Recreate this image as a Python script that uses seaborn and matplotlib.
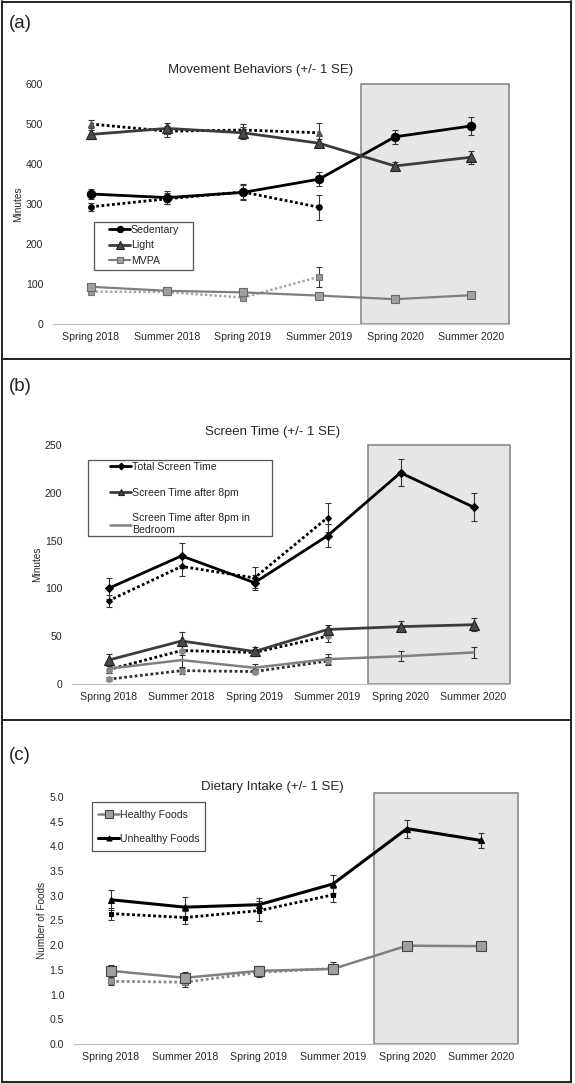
import numpy as np
import seaborn as sns
import matplotlib.pyplot as plt
from matplotlib.lines import Line2D
from matplotlib.patches import Rectangle

# --- data ---
seasons = ['Spring 2018', 'Summer 2018', 'Spring 2019', 'Summer 2019', 'Spring 2020', 'Summer 2020']

# (a) movement behaviours, minutes; solid = full sample, dotted = comparison cohort
sed = [325, 316, 329, 362, 468, 495]
sed_se = [12, 16, 20, 17, 17, 22]
sed_dot = [293, 313, 330, 292]
sed_dot_se = [10, 14, 18, 31]
light = [474, 489, 478, 452, 395, 417]
light_se = [12, 13, 15, 10, 11, 16]
light_dot = [500, 482, 485, 478]
light_dot_se = [9, 14, 15, 25]
mvpa = [93, 83, 79, 71, 62, 72]
mvpa_se = [5, 5, 5, 4, 4, 4]
mvpa_dot = [81, 80, 66, 118]
mvpa_dot_se = [5, 5, 6, 25]

# (b) screen time, minutes
total = [100, 134, 106, 155, 221, 185]
total_se = [11, 13, 8, 12, 14, 15]
total_dot = [87, 123, 111, 174]
total_dot_se = [6, 10, 11, 15]
eight = [25, 45, 34, 57, 60, 62]
eight_se = [6, 9, 5, 5, 6, 7]
eight_dot = [15, 35, 33, 50]
eight_dot_se = [4, 5, 4, 6]
bed = [16, 25, 17, 26, 29, 33]
bed_se = [4, 8, 4, 5, 5, 6]
bed_dot = [5, 14, 13, 24]
bed_dot_se = [2, 4, 3, 4]

# (c) dietary intake, number of foods
healthy = [1.48, 1.34, 1.48, 1.52, 1.99, 1.98]
healthy_se = [0.11, 0.11, 0.10, 0.10, 0.07, 0.07]
healthy_dot = [1.27, 1.25, 1.45, 1.53]
healthy_dot_se = [0.08, 0.09, 0.09, 0.12]
unhealthy = [2.92, 2.77, 2.82, 3.24, 4.36, 4.12]
unhealthy_se = [0.20, 0.20, 0.13, 0.19, 0.18, 0.16]
unhealthy_dot = [2.64, 2.56, 2.70, 3.02]
unhealthy_dot_se = [0.12, 0.13, 0.20, 0.14]

sns.set_style("white")
plt.rcParams['font.family'] = ['Liberation Sans', 'DejaVu Sans']

W, H = 575, 1083
fig = plt.figure(figsize=(W / 100, H / 100), dpi=100)

DOT = (0, (1, 0.9))


def px_axes(x0, x1, ytop, ybot):
    return fig.add_axes([x0 / W, 1 - ybot / H, (x1 - x0) / W, (ybot - ytop) / H])


def series(ax, vals, se, color, marker, ms, ls='-', lw=1.8, label=None,
           mfc=None, mec=None):
    x = np.arange(len(vals))
    ax.errorbar(x, vals, yerr=se, fmt='none', ecolor='#333333', elinewidth=0.8,
                capsize=2, capthick=0.8, zorder=2.5)
    sns.lineplot(x=x, y=vals, ax=ax, color=color, marker=marker, markersize=ms,
                 linestyle=ls, linewidth=lw, markerfacecolor=mfc or color,
                 markeredgecolor=mec or color, markeredgewidth=0.8,
                 label=label, legend=False, zorder=3)


def style_axes(ax, ymax, yticks, fmt, title, tx, ty, ylabel, shade_top=1.0):
    ax.set_xlim(-0.5, len(seasons) - 0.5)
    ax.set_ylim(0, ymax)
    ax.set_xticks(np.arange(len(seasons)))
    ax.set_xticklabels(seasons)
    ax.set_yticks(yticks)
    ax.set_yticklabels([fmt.format(v) for v in yticks])
    ax.tick_params(axis='both', length=0, labelsize=7.6)
    ax.tick_params(axis='x', pad=6)
    ax.tick_params(axis='y', pad=7)
    for s in ['top', 'right', 'left']:
        ax.spines[s].set_visible(False)
    ax.spines['bottom'].set_color('#c0c0c0')
    ax.spines['bottom'].set_linewidth(0.9)
    ax.set_xlabel('')
    ax.set_ylabel(ylabel, fontsize=7.2, labelpad=2)
    ax.text(tx, ty, title, transform=ax.transAxes, ha='center', va='center',
            fontsize=9.5)
    ax.axvspan(3.55, len(seasons) - 0.5, ymin=0, ymax=shade_top,
               facecolor='#e6e6e6', edgecolor='#8a8a8a', linewidth=1.2,
               zorder=0, clip_on=False)


def legend(ax, box, anchor, spacing):
    # box: frame in axes fraction (x0, y0, x1, y1); anchor: top-left of first handle
    h, l = ax.get_legend_handles_labels()
    ax.legend(h, l, loc='upper left', bbox_to_anchor=anchor, fontsize=7.6,
              frameon=False, handlelength=2.0, handletextpad=0.05,
              labelspacing=spacing, borderpad=0, borderaxespad=0, markerscale=0.75)
    x0, y0, x1, y1 = box
    ax.add_patch(Rectangle((x0, y0), x1 - x0, y1 - y0, transform=ax.transAxes,
                           facecolor='white', edgecolor='#555555', linewidth=0.9,
                           zorder=4))
    ax.get_legend().set_zorder(5)


# ---------------- (a) ----------------
ax = px_axes(53, 509, 84, 324)
series(ax, sed_dot, sed_dot_se, 'black', 'o', 4, ls=DOT, lw=2)
series(ax, light_dot, light_dot_se, 'black', '^', 4.5, ls=DOT, lw=2,
       mfc='#555555', mec='#555555')
series(ax, mvpa_dot, mvpa_dot_se, '#a8a8a8', 's', 4, ls=DOT, lw=1.8,
       mfc='#999999', mec='#777777')
series(ax, sed, sed_se, 'black', 'o', 6, lw=2, label='Sedentary')
series(ax, light, light_se, '#3c3c3c', '^', 7.5, lw=2, label='Light',
       mfc='#4a4a4a', mec='#222222')
series(ax, mvpa, mvpa_se, '#7f7f7f', 's', 5.5, lw=1.6, label='MVPA',
       mfc='#a0a0a0', mec='#6a6a6a')
style_axes(ax, 600, np.arange(0, 601, 100), '{:.0f}', 'Movement Behaviors (+/- 1 SE)',
           0.456, 1.058, 'Minutes')
legend(ax, (0.090, 0.225, 0.307, 0.425), (0.123, 0.412), 0.5)

# ---------------- (b) ----------------
ax = px_axes(72, 510, 445, 684)
series(ax, total_dot, total_dot_se, 'black', 'D', 3, ls=DOT, lw=2)
series(ax, eight_dot, eight_dot_se, 'black', 'o', 4, ls=DOT, lw=2,
       mfc='#888888', mec='#888888')
series(ax, bed_dot, bed_dot_se, '#333333', 'o', 4, ls=DOT, lw=2,
       mfc='#8a8a8a', mec='#8a8a8a')
series(ax, total, total_se, 'black', 'D', 4.5, lw=2, label='Total Screen Time')
series(ax, eight, eight_se, '#3c3c3c', '^', 6.5, lw=2, label='Screen Time after 8pm',
       mfc='#4a4a4a', mec='#222222')
series(ax, bed, bed_se, '#808080', None, 0, lw=1.8,
       label='Screen Time after 8pm in\nBedroom')
style_axes(ax, 250, np.arange(0, 251, 50), '{:.0f}', 'Screen Time (+/- 1 SE)',
           0.459, 1.054, 'Minutes')
legend(ax, (0.0365, 0.619, 0.457, 0.937), (0.087, 0.93), 1.5)

# ---------------- (c) ----------------
ax = px_axes(74, 518, 797, 1044)
series(ax, healthy_dot, healthy_dot_se, '#8a8a8a', 's', 4, ls=DOT, lw=2,
       mfc='#999999', mec='#777777')
series(ax, unhealthy_dot, unhealthy_dot_se, 'black', 's', 3.2, ls=DOT, lw=2)
series(ax, healthy, healthy_se, '#808080', 's', 7.5, lw=1.8, label='Healthy Foods',
       mfc='#a0a0a0', mec='#444444')
series(ax, unhealthy, unhealthy_se, 'black', '^', 4.8, lw=2.2, label='Unhealthy Foods')
style_axes(ax, 5.0, np.arange(0, 5.01, 0.5), '{:.1f}', 'Dietary Intake (+/- 1 SE)',
           0.446, 1.04, 'Number of Foods', shade_top=1.016)
legend(ax, (0.0405, 0.781, 0.295, 0.980), (0.054, 0.948), 1.35)

# panel labels and frame
for lab, y in [('(a)', 24), ('(b)', 387), ('(c)', 755)]:
    fig.text(9 / W, 1 - y / H, lab, fontsize=13.5, ha='left', va='center')

frame_kw = dict(color='#222222', linewidth=1.4, transform=fig.transFigure)
L, R = 1.5 / W, 571 / W
fig.add_artist(Line2D([L, L], [0.001, 0.999], **frame_kw))
fig.add_artist(Line2D([R, R], [0.001, 0.999], **frame_kw))
for y in [1.5, 359, 720, 1081.5]:
    fig.add_artist(Line2D([L, R], [1 - y / H] * 2, **frame_kw))

fig.savefig('out.png', dpi=100)
